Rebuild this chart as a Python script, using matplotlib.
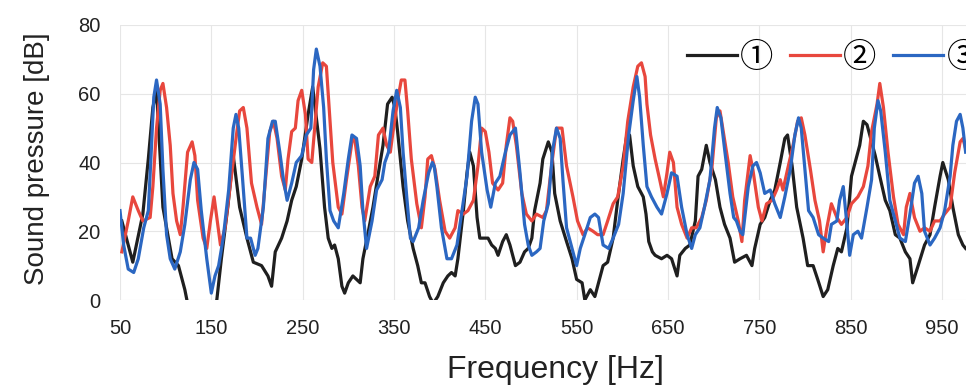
import matplotlib
matplotlib.use("Agg")
import matplotlib.pyplot as plt

# -------------------------------
# Data (Hz, dB)
# -------------------------------
freq_1 = [52, 64, 75, 81, 86, 90, 97, 107, 114, 121,
          124, 138, 149, 156, 161, 168, 174, 181, 189, 196,
          205, 212, 216, 220, 227, 233, 238, 243, 249, 256,
          261, 269, 274, 278, 282, 285, 289, 293, 296, 300,
          305, 309, 313, 316, 322, 327, 333, 338, 343, 348,
          351, 354, 360, 365, 371, 376, 380, 384, 389, 393,
          398, 404, 409, 413, 417, 420, 426, 430, 433, 437,
          441, 444, 450, 453, 457, 461, 464, 469, 473, 477,
          483, 488, 493, 497, 501, 504, 510, 513, 519, 523,
          526, 532, 539, 545, 550, 556, 559, 565, 570, 573,
          579, 584, 590, 595, 601, 605, 608, 612, 617, 623,
          626, 629, 633, 636, 643, 649, 654, 660, 663, 669,
          674, 680, 683, 687, 692, 696, 702, 707, 712, 718,
          723, 729, 736, 742, 745, 751, 756, 762, 767, 773,
          778, 781, 786, 791, 798, 803, 809, 814, 820, 825,
          831, 836, 840, 846, 851, 855, 860, 864, 868, 871,
          877, 882, 888, 893, 899, 904, 910, 915, 918, 924,
          931, 937, 942, 948, 951, 957, 962, 968, 973, 976]
spl_1 = [23, 11, 25, 41, 56, 61, 27, 12, 10, 3,
         -1, -6, -4, 0, 12, 27, 42, 27, 18, 11,
         10, 7, 4, 14, 18, 23, 29, 33, 41, 54,
         62, 44, 27, 18, 15, 16, 12, 4, 2, 5,
         7, 6, 5, 12, 20, 27, 37, 45, 57, 59,
         56, 49, 33, 23, 15, 10, 5, 5, 1, -1,
         1, 5, 7, 8, 7, 12, 26, 37, 43, 39,
         24, 18, 18, 18, 16, 15, 13, 17, 19, 16,
         10, 11, 14, 15, 18, 26, 34, 41, 46, 43,
         31, 23, 17, 12, 6, 5, 0, 3, 1, 4,
         10, 11, 18, 29, 41, 48, 48, 39, 33, 30,
         25, 17, 14, 13, 12, 13, 12, 7, 13, 15,
         16, 23, 36, 38, 45, 40, 35, 27, 22, 18,
         11, 12, 13, 10, 15, 22, 24, 29, 32, 40,
         47, 48, 39, 27, 18, 10, 10, 6, 1, 3,
         10, 15, 14, 21, 36, 40, 45, 52, 51, 48,
         42, 36, 29, 26, 19, 18, 14, 12, 5, 10,
         16, 19, 27, 36, 40, 35, 27, 19, 16, 15]

freq_2 = [52, 59, 64, 70, 75, 83, 86, 90, 94, 97,
          101, 105, 108, 112, 116, 119, 124, 129, 132, 135,
          141, 145, 149, 153, 157, 160, 165, 172, 178, 181,
          185, 189, 194, 200, 205, 211, 214, 218, 222, 227,
          231, 234, 238, 242, 245, 249, 253, 256, 260, 267,
          272, 276, 280, 283, 289, 293, 298, 304, 307, 311,
          315, 318, 324, 329, 333, 338, 342, 346, 349, 354,
          358, 362, 365, 369, 375, 380, 384, 387, 391, 395,
          400, 406, 411, 417, 420, 426, 431, 437, 442, 446,
          450, 454, 458, 464, 469, 473, 477, 480, 484, 490,
          495, 501, 506, 513, 517, 523, 528, 534, 539, 546,
          551, 557, 562, 568, 573, 579, 584, 590, 595, 601,
          606, 612, 617, 621, 625, 627, 631, 636, 641, 645,
          649, 652, 656, 660, 665, 671, 676, 681, 687, 692,
          698, 703, 707, 710, 716, 721, 727, 731, 734, 740,
          743, 749, 753, 758, 764, 769, 773, 776, 781, 787,
          792, 796, 800, 806, 811, 816, 820, 824, 829, 835,
          840, 846, 851, 858, 864, 869, 873, 879, 882, 886,
          891, 897, 902, 908, 911, 915, 920, 926, 931, 937,
          942, 948, 953, 959, 964, 970, 973, 976]
spl_2 = [14, 23, 30, 26, 23, 24, 33, 50, 61, 63,
         56, 45, 31, 23, 19, 27, 43, 46, 42, 29,
         18, 15, 23, 30, 22, 16, 21, 36, 49, 55,
         56, 50, 34, 27, 22, 40, 49, 52, 47, 36,
         32, 41, 49, 50, 58, 61, 54, 41, 40, 62,
         69, 68, 52, 40, 27, 25, 35, 46, 47, 39,
         27, 23, 33, 36, 48, 50, 45, 43, 49, 58,
         64, 64, 55, 41, 28, 21, 30, 41, 42, 38,
         29, 20, 18, 21, 26, 25, 26, 29, 39, 50,
         49, 43, 34, 32, 34, 45, 53, 52, 45, 31,
         25, 23, 25, 24, 26, 40, 50, 50, 39, 30,
         23, 19, 21, 20, 19, 19, 23, 28, 30, 39,
         52, 62, 68, 69, 65, 57, 48, 41, 35, 30,
         37, 43, 40, 27, 22, 18, 21, 21, 24, 29,
         38, 53, 55, 50, 40, 30, 23, 17, 29, 42,
         38, 27, 23, 28, 29, 32, 35, 32, 38, 45,
         52, 53, 48, 38, 29, 23, 14, 21, 28, 24,
         22, 24, 28, 30, 33, 39, 49, 57, 63, 56,
         43, 30, 22, 19, 27, 31, 24, 20, 21, 20,
         23, 23, 25, 27, 37, 46, 47, 44]

freq_3 = [50, 54, 59, 65, 70, 76, 81, 84, 87, 90,
          94, 97, 101, 105, 110, 116, 121, 127, 131, 135,
          139, 145, 150, 154, 158, 163, 169, 174, 177, 180,
          184, 189, 193, 198, 201, 207, 212, 217, 220, 225,
          229, 233, 238, 243, 249, 254, 259, 262, 265, 269,
          273, 276, 280, 284, 289, 295, 300, 304, 309, 313,
          316, 320, 326, 331, 337, 340, 344, 349, 353, 357,
          360, 364, 368, 371, 377, 382, 388, 392, 394, 397,
          402, 408, 413, 419, 424, 430, 435, 439, 442, 446,
          452, 456, 461, 466, 472, 477, 483, 488, 493, 497,
          501, 506, 510, 514, 519, 524, 528, 532, 535, 539,
          545, 550, 554, 559, 565, 570, 574, 579, 585, 590,
          596, 601, 607, 612, 616, 619, 623, 627, 632, 638,
          643, 649, 654, 660, 665, 671, 676, 680, 685, 690,
          696, 701, 704, 708, 712, 718, 722, 725, 729, 732,
          738, 743, 747, 751, 756, 762, 767, 773, 778, 784,
          789, 793, 796, 800, 804, 809, 815, 820, 826, 829,
          835, 838, 842, 846, 849, 853, 858, 862, 868, 873,
          876, 880, 883, 888, 893, 899, 904, 910, 915, 920,
          924, 928, 931, 937, 942, 948, 953, 959, 962, 966,
          970, 973, 976]
spl_3 = [26, 16, 9, 8, 12, 21, 26, 42, 59, 64,
         57, 38, 19, 12, 9, 14, 22, 35, 40, 38,
         26, 12, 2, 7, 10, 18, 32, 50, 54, 50,
         36, 18, 18, 13, 15, 27, 47, 52, 52, 43,
         35, 29, 34, 40, 42, 48, 50, 67, 73, 68,
         56, 41, 26, 23, 21, 31, 41, 48, 47, 39,
         26, 15, 23, 32, 35, 40, 43, 55, 61, 56,
         43, 30, 18, 17, 21, 29, 37, 40, 39, 33,
         21, 12, 12, 16, 25, 36, 52, 59, 57, 43,
         32, 27, 34, 36, 43, 48, 50, 37, 22, 16,
         13, 14, 15, 23, 28, 44, 50, 47, 35, 21,
         15, 10, 15, 19, 24, 25, 24, 16, 15, 18,
         22, 31, 48, 58, 65, 59, 45, 33, 30, 27,
         25, 31, 37, 36, 27, 19, 15, 19, 21, 27,
         35, 50, 56, 53, 44, 31, 24, 23, 20, 19,
         33, 39, 40, 37, 31, 32, 28, 24, 30, 38,
         48, 53, 50, 38, 26, 24, 19, 18, 17, 22,
         23, 29, 33, 22, 13, 19, 20, 18, 27, 35,
         50, 58, 55, 43, 29, 23, 18, 17, 25, 34,
         36, 31, 20, 16, 18, 21, 26, 36, 45, 52,
         54, 50, 43]

labels = ["①", "②", "③"]
x_ticks = list(range(50, 951, 100))
y_ticks = [0, 20, 40, 60, 80]

# -------------------------------
# Figure
# -------------------------------
plt.rcParams['font.family'] = ['Liberation Sans', 'DejaVu Sans']

fig = plt.figure(figsize=(9.66, 3.87), dpi=100)
ax = fig.add_axes([120 / 966, 87 / 387, 846 / 966, 275 / 387])

ax.plot(freq_1, spl_1, color="#1f1f1f", lw=2.3, label=labels[0])
ax.plot(freq_2, spl_2, color="#e8473d", lw=2.3, label=labels[1])
ax.plot(freq_3, spl_3, color="#2b67c2", lw=2.3, label=labels[2])

ax.set_xlim(50, 976.4)
ax.set_ylim(0, 80)
ax.set_xticks(x_ticks)
ax.set_yticks(y_ticks)
ax.tick_params(length=0, labelsize=14.5, pad=14, colors="#222222")
for sp in ax.spines.values():
    sp.set_visible(False)
ax.grid(color="#e6e6e6", lw=0.8)
ax.set_axisbelow(True)

fig.text(555 / 966, 1 - 370 / 387, "Frequency [Hz]", ha="center", va="center",
         fontsize=23, color="#222222")
fig.text(37 / 966, 1 - 159 / 387, "Sound pressure [dB]", ha="center", va="center",
         rotation=90, fontsize=20, color="#222222")

# the third entry runs past the right edge, as in the source image
leg = ax.legend(ncol=3, loc="center right", bbox_to_anchor=(980 / 966, 1 - 57 / 387),
                bbox_transform=fig.transFigure, frameon=False,
                prop={"family": ["Noto Sans CJK JP", "DejaVu Sans"], "size": 24},
                handlelength=1.5, handletextpad=0.1, columnspacing=0.5,
                borderpad=0, borderaxespad=0)

fig.savefig("out.png", dpi=100)
